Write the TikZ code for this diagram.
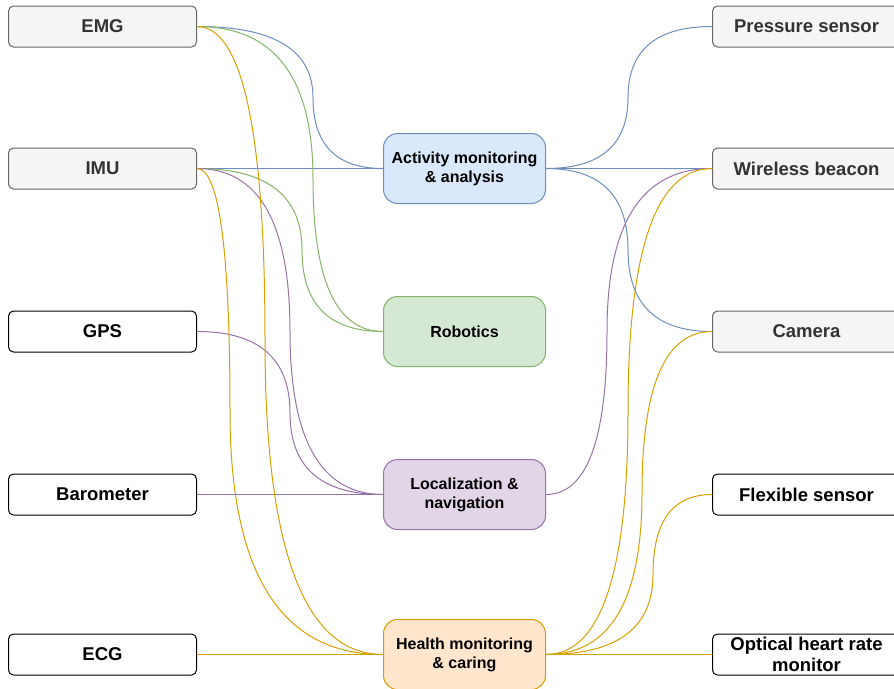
\documentclass[tikz,border=0pt]{standalone}
\usepackage{fontspec}
\setmainfont{Liberation Sans}
\usetikzlibrary{calc}
% 色の定義
\definecolor{grayfill}{HTML}{F5F5F5}
\definecolor{graydraw}{HTML}{666666}
\definecolor{graytext}{HTML}{333333}
\definecolor{actfill}{HTML}{DAE8FC}
\definecolor{actline}{HTML}{6C8EBF}
\definecolor{robfill}{HTML}{D5E8D4}
\definecolor{robline}{HTML}{82B366}
\definecolor{locfill}{HTML}{E1D5E7}
\definecolor{locline}{HTML}{9673A6}
\definecolor{hltfill}{HTML}{FFE6CC}
\definecolor{hltdraw}{HTML}{D79B00}
\definecolor{hltline}{HTML}{D7A000}
\tikzset{
  sensor/.style={draw=black, fill=white, line width=1pt, rounded corners=5pt,
    minimum width=188pt, minimum height=41pt, inner sep=0pt, align=center,
    font=\fontsize{18.5}{21}\selectfont\bfseries},
  graysensor/.style={sensor, draw=graydraw, fill=grayfill, text=graytext},
  app/.style={line width=1pt, rounded corners=14pt, minimum width=162pt,
    minimum height=70pt, inner sep=0pt, align=center,
    font=\fontsize{16}{19}\selectfont\bfseries}
}
\begin{document}
\begin{tikzpicture}[x=1pt, y=-1pt, line cap=round, line join=round]
            \useasboundingbox (0,0) rectangle (894,688);
            % --- 左側のセンサー ---
            \node[graysensor] (emg) at (102.5,26.5) {EMG};
            \node[graysensor] (imu) at (102.5,168.5) {IMU};
            \node[sensor] (gps) at (102.5,331.5) {GPS};
            \node[sensor] (baro) at (102.5,494.5) {Barometer};
            \node[sensor] (ecg) at (102.5,654.5) {ECG};
            % --- 右側のセンサー ---
            \node[graysensor] (pres) at (806.5,26.5) {Pressure sensor};
            \node[graysensor] (wire) at (806.5,168.5) {Wireless beacon};
            \node[graysensor] (cam) at (806.5,331.5) {Camera};
            \node[sensor] (flex) at (806.5,494.5) {Flexible sensor};
            \node[sensor] (ohr) at (806.5,654.5) {Optical heart rate\\monitor};
            % --- 中央の応用分野 ---
            \node[app, draw=actline, fill=actfill] (act) at (464.5,168.5) {Activity monitoring\\\& analysis};
            \node[app, draw=robline, fill=robfill] (rob) at (464.5,331.5) {Robotics};
            \node[app, draw=locline, fill=locfill] (loc) at (464.5,494.5) {Localization \&\\navigation};
            \node[app, draw=hltdraw, fill=hltfill] (hlt) at (464.5,654.5) {Health monitoring\\\& caring};
            % --- 曲線の接続線(始点/終点/縦の位置/色)
            \foreach \a/\b/\m/\c in {emg/act/313pt/actline, imu/act/290pt/actline,
                act/pres/628pt/actline, act/wire/628pt/actline, act/cam/628pt/actline,
                emg/rob/313pt/robline, imu/rob/302pt/robline,
                imu/loc/290pt/locline, gps/loc/290pt/locline, baro/loc/290pt/locline,
                loc/wire/607pt/locline,
                emg/hlt/265pt/hltline, imu/hlt/230pt/hltline, ecg/hlt/290pt/hltline,
                hlt/wire/628pt/hltline, hlt/cam/642pt/hltline, hlt/flex/653pt/hltline,
                hlt/ohr/628pt/hltline}
              \draw[color=\c, line width=1pt] let \p1=(\a.east), \p2=(\b.west) in
                (\p1) .. controls ({\x1+2*(\m-\x1)/3},\y1) and (\m,{(5*\y1+\y2)/6})
                .. (\m,{(\y1+\y2)/2})
                .. controls (\m,{(\y1+5*\y2)/6}) and ({\x2+2*(\m-\x2)/3},\y2) .. (\p2);
        \end{tikzpicture}
\end{document}
